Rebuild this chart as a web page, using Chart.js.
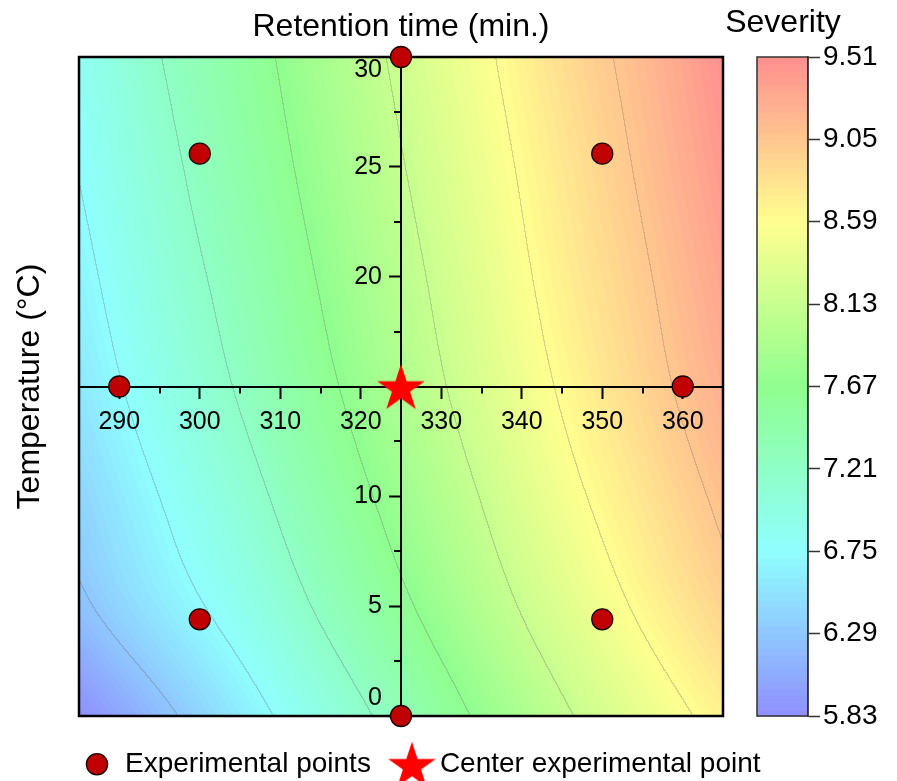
<!DOCTYPE html>
<html>
<head>
<meta charset="utf-8">
<script src="https://cdn.jsdelivr.net/npm/chart.js@4.4.0/dist/chart.umd.min.js"></script>
<style>
html,body{margin:0;padding:0;background:#fff;}
canvas{display:block;}
</style>
</head>
<body>
<canvas id="c" width="897" height="781"></canvas>
<script>
// ---------- data ----------
const tempGrid = [285, 295, 305, 315, 325, 335, 345, 355, 365];   // °C
const timeGrid = [0, 5, 10, 15, 20, 25, 30];                        // min
// severity estimated along each retention-time row (one value per temperature)
const sevAt0  = [5.83, 6.20, 6.59, 6.97, 7.34, 7.72, 8.08, 8.40, 8.70];
const sevAt5  = [6.23, 6.57, 6.89, 7.25, 7.61, 7.97, 8.32, 8.64, 8.95];
const sevAt10 = [6.40, 6.75, 7.08, 7.44, 7.79, 8.14, 8.49, 8.80, 9.11];
const sevAt15 = [6.55, 6.91, 7.24, 7.59, 7.93, 8.28, 8.62, 8.93, 9.25];
const sevAt20 = [6.66, 7.02, 7.34, 7.69, 8.02, 8.37, 8.71, 9.01, 9.34];
const sevAt25 = [6.76, 7.11, 7.44, 7.78, 8.11, 8.45, 8.78, 9.09, 9.43];
const sevAt30 = [6.85, 7.20, 7.52, 7.86, 8.19, 8.53, 8.86, 9.16, 9.50];

const expTemp = [300, 350, 300, 350, 290, 360, 325, 325];
const expTime = [4.4, 4.4, 25.6, 25.6, 15, 15, 0, 30];
const centerTemp = [325];
const centerTime = [15];

const xTicks = [290, 300, 310, 320, 330, 340, 350, 360];
const xMinorTicks = [295, 305, 315, 335, 345, 355];
const yTicks = [0, 5, 10, 20, 25, 30];
const yMinorTicks = [2.5, 7.5, 12.5, 17.5, 22.5, 27.5];
const colorTicks = [5.83, 6.29, 6.75, 7.21, 7.67, 8.13, 8.59, 9.05, 9.51];

const severityRows = [sevAt0, sevAt5, sevAt10, sevAt15, sevAt20, sevAt25, sevAt30];

// ---------- helpers ----------
const FONT = "'Liberation Sans', Arial, sans-serif";
Chart.defaults.font.family = FONT;
Chart.defaults.color = '#000';

const vMin = colorTicks[0], vMax = colorTicks[colorTicks.length - 1];
const BANDS_PER_STEP = 12;
const nBands = (colorTicks.length - 1) * BANDS_PER_STEP;
const contourStep = colorTicks[1] - colorTicks[0];

function hsl2rgb(h, s, l) {
  const c = (1 - Math.abs(2 * l - 1)) * s;
  const hp = h / 60;
  const x = c * (1 - Math.abs(hp % 2 - 1));
  let r = 0, g = 0, b = 0;
  if (hp < 1) { r = c; g = x; }
  else if (hp < 2) { r = x; g = c; }
  else if (hp < 3) { g = c; b = x; }
  else if (hp < 4) { g = x; b = c; }
  else if (hp < 5) { r = x; b = c; }
  else { r = c; b = x; }
  const m = l - c / 2;
  return [Math.round((r + m) * 255), Math.round((g + m) * 255), Math.round((b + m) * 255)];
}
function colorFor(v) {
  let f = (vMax - v) / (vMax - vMin);
  f = Math.max(0, Math.min(1, f));
  return hsl2rgb(240 * f, 1, 0.78);
}
const bandColors = [];
for (let b = 0; b < nBands; b++) {
  bandColors.push(colorFor(vMin + (b + 0.5) * (vMax - vMin) / nBands));
}
function bandOf(v) {
  let b = Math.floor((v - vMin) / (vMax - vMin) * nBands);
  return Math.max(0, Math.min(nBands - 1, b));
}
function cr(p0, p1, p2, p3, t) {
  return 0.5 * ((2 * p1) + (-p0 + p2) * t + (2 * p0 - 5 * p1 + 4 * p2 - p3) * t * t + (-p0 + 3 * p1 - 3 * p2 + p3) * t * t * t);
}
function fracIndex(grid, v) {
  const n = grid.length;
  if (v <= grid[0]) return 0;
  if (v >= grid[n - 1]) return n - 1;
  for (let i = 0; i < n - 1; i++) {
    if (v <= grid[i + 1]) return i + (v - grid[i]) / (grid[i + 1] - grid[i]);
  }
  return n - 1;
}
// Catmull-Rom sampling with linear end extension (smooth rendering only)
function pick(getter, n, i) {
  if (i < 0) return 2 * getter(0) - getter(1);
  if (i > n - 1) return 2 * getter(n - 1) - getter(n - 2);
  return getter(i);
}
function sample1d(getter, n, f) {
  let i1 = Math.max(0, Math.min(Math.floor(f), n - 2));
  const u = f - i1;
  return cr(pick(getter, n, i1 - 1), getter(i1), getter(i1 + 1), pick(getter, n, i1 + 2), u);
}

// star symbol
const starImg = document.createElement('canvas');
starImg.width = 56; starImg.height = 56;
(function () {
  const sc = starImg.getContext('2d');
  const R = 25, r = R * 0.382, cx = 28, cy = 28 + R * 0.095;
  sc.fillStyle = '#ff0000';
  sc.beginPath();
  for (let k = 0; k < 10; k++) {
    const rad = k % 2 === 0 ? R : r;
    const ang = -Math.PI / 2 + k * Math.PI / 5;
    const px = cx + rad * Math.cos(ang), py = cy + rad * Math.sin(ang);
    if (k === 0) sc.moveTo(px, py); else sc.lineTo(px, py);
  }
  sc.closePath();
  sc.fill();
})();

// ---------- plugin: contour map, frame, colour bar, extra ticks ----------
const contourPlugin = {
  id: 'contourMap',
  beforeDraw(chart) {
    const { ctx, chartArea: a, scales } = chart;
    const x = scales.x, y = scales.y;
    const L = Math.round(a.left), T = Math.round(a.top);
    const W = Math.round(a.right) - L, H = Math.round(a.bottom) - T;
    const nC = tempGrid.length, nR = severityRows.length;
    const colF = new Float32Array(W);
    for (let i = 0; i < W; i++) colF[i] = fracIndex(tempGrid, x.getValueForPixel(L + i + 0.5));
    const rowVals = severityRows.map(row => {
      const out = new Float32Array(W);
      const g = k => row[k];
      for (let i = 0; i < W; i++) out[i] = sample1d(g, nC, colF[i]);
      return out;
    });
    const vals = new Float32Array(W * H);
    for (let j = 0; j < H; j++) {
      const f = fracIndex(timeGrid, y.getValueForPixel(T + j + 0.5));
      for (let i = 0; i < W; i++) {
        vals[j * W + i] = sample1d(k => rowVals[k][i], nR, f);
      }
    }
    const img = ctx.createImageData(W, H);
    const d = img.data;
    const lvl = v => Math.floor((v - vMin) / contourStep + 1e-6);
    const LINE = 0.28, GRAY = 105;
    for (let j = 0; j < H; j++) {
      for (let i = 0; i < W; i++) {
        const k = j * W + i;
        const v = vals[k];
        const c = bandColors[bandOf(v)];
        let rr = c[0], gg = c[1], bb = c[2];
        const lv = lvl(v);
        let edge = false;
        if (i < W - 1 && lvl(vals[k + 1]) !== lv) edge = true;
        if (j < H - 1 && lvl(vals[k + W]) !== lv) edge = true;
        if (edge) {
          rr = rr * (1 - LINE) + GRAY * LINE; gg = gg * (1 - LINE) + GRAY * LINE; bb = bb * (1 - LINE) + GRAY * LINE;
        }
        const p = k * 4;
        d[p] = rr; d[p + 1] = gg; d[p + 2] = bb; d[p + 3] = 255;
      }
    }
    ctx.putImageData(img, L, T);

    // frame
    ctx.save();
    ctx.strokeStyle = '#000';
    ctx.lineWidth = 2.5;
    ctx.strokeRect(a.left, a.top, a.right - a.left, a.bottom - a.top);
    ctx.restore();

    // colour bar
    const cb = scales.cb;
    const barW = 51;
    const bx = cb.left - barW;
    ctx.save();
    for (let b = 0; b < nBands; b++) {
      const v0 = vMin + b * (vMax - vMin) / nBands;
      const v1 = vMin + (b + 1) * (vMax - vMin) / nBands;
      const y0 = cb.getPixelForValue(v1), y1 = cb.getPixelForValue(v0);
      const c = bandColors[b];
      ctx.fillStyle = `rgb(${c[0]},${c[1]},${c[2]})`;
      ctx.fillRect(bx, y0, barW, y1 - y0 + 0.6);
    }
    ctx.strokeStyle = '#333';
    ctx.lineWidth = 1.5;
    ctx.strokeRect(bx, cb.getPixelForValue(vMax), barW, cb.getPixelForValue(vMin) - cb.getPixelForValue(vMax));
    ctx.restore();
  },
  beforeDatasetsDraw(chart) {
    const { ctx, scales } = chart;
    const x = scales.x, y = scales.y;
    const axY = y.getPixelForValue(centerTime[0]);
    const axX = x.getPixelForValue(centerTemp[0]);
    ctx.save();
    ctx.strokeStyle = '#000';
    ctx.lineWidth = 2;
    ctx.beginPath();
    xMinorTicks.forEach(v => {
      const px = Math.round(x.getPixelForValue(v));
      ctx.moveTo(px, axY); ctx.lineTo(px, axY + 7);
    });
    yMinorTicks.forEach(v => {
      const py = Math.round(y.getPixelForValue(v));
      ctx.moveTo(axX, py); ctx.lineTo(axX - 7, py);
    });
    ctx.stroke();
    // tick labels of the vertical (retention time) axis
    ctx.fillStyle = '#000';
    ctx.font = `25px ${FONT}`;
    ctx.textAlign = 'right';
    ctx.textBaseline = 'middle';
    const lx = axX - 19;
    const last = yTicks.length - 1;
    yTicks.forEach((v, i) => {
      let py = y.getPixelForValue(v);
      if (i === last) py += 13;       // top label sits inside the frame
      else if (i === 0) py -= 18;     // bottom label sits inside the frame
      ctx.fillText(String(v), lx, py);
    });
    // colour bar title
    ctx.textAlign = 'center';
    ctx.font = `32px ${FONT}`;
    ctx.fillText('Severity', scales.cb.left - 25, 23);
    ctx.restore();
  }
};

// ---------- chart ----------
new Chart(document.getElementById('c'), {
  type: 'scatter',
  data: {
    datasets: [
      {
        label: 'Experimental points',
        data: expTemp.map((t, i) => ({ x: t, y: expTime[i] })),
        pointStyle: 'circle',
        pointRadius: 10.5,
        backgroundColor: '#c00000',
        borderColor: '#1a0000',
        borderWidth: 1.3,
        clip: false
      },
      {
        label: 'Center experimental point',
        data: centerTemp.map((t, i) => ({ x: t, y: centerTime[i] })),
        pointStyle: starImg,
        backgroundColor: '#ff0000',
        borderColor: '#ff0000',
        clip: false
      }
    ]
  },
  options: {
    responsive: false,
    animation: false,
    events: [],
    layout: { padding: { left: 56, right: 0, top: 0, bottom: 0 } },
    scales: {
      x: {
        type: 'linear',
        position: { y: centerTime[0] },
        min: 285, max: 365,
        afterBuildTicks: s => { s.ticks = xTicks.map(v => ({ value: v })); },
        ticks: { font: { size: 25 }, color: '#000', padding: 10, autoSkip: false, maxRotation: 0, callback: v => String(v) },
        grid: { display: true, drawOnChartArea: false, drawTicks: true, tickLength: 11, tickWidth: 2, tickColor: '#000' },
        border: { display: true, color: '#000', width: 2 }
      },
      y: {
        type: 'linear',
        position: { x: centerTemp[0] },
        min: 0, max: 30,
        afterBuildTicks: s => { s.ticks = yTicks.map(v => ({ value: v })); },
        ticks: { display: false },
        grid: { display: true, drawOnChartArea: false, drawTicks: true, tickLength: 11, tickWidth: 2, tickColor: '#000' },
        border: { display: true, color: '#000', width: 2 }
      },
      tempTitle: {
        type: 'linear',
        position: 'left',
        display: true,
        afterFit: s => { s.width = 23; },
        ticks: { display: false },
        grid: { display: false },
        border: { display: false },
        title: { display: true, text: 'Temperature (°C)', font: { size: 32 }, color: '#000', padding: { top: -45, bottom: 0 } }
      },
      gapR: {
        type: 'linear',
        position: 'right',
        weight: 0,
        display: true,
        afterFit: s => { s.width = 85; },
        ticks: { display: false },
        grid: { display: false },
        border: { display: false }
      },
      cb: {
        type: 'linear',
        position: 'right',
        weight: 1,
        min: vMin, max: vMax,
        afterFit: s => { s.width = 89; },
        afterBuildTicks: s => { s.ticks = colorTicks.map(v => ({ value: v })); },
        ticks: { font: { size: 28 }, color: '#000', padding: 3, autoSkip: false, callback: v => Number(v).toFixed(2) },
        grid: { display: true, drawOnChartArea: false, drawTicks: true, tickLength: 12, tickWidth: 1.5, tickColor: '#333' },
        border: { display: true, color: '#333', width: 1.5 }
      }
    },
    plugins: {
      title: {
        display: true,
        text: 'Retention time (min.)',
        fullSize: false,
        font: { size: 32, weight: 'normal' },
        color: '#000',
        padding: { top: 8, bottom: 10.6 }
      },
      legend: {
        position: 'bottom',
        align: 'start',
        maxHeight: 65,
        title: { display: true, text: '', font: { size: 6 }, padding: 0 },
        labels: { usePointStyle: true, boxHeight: 15, font: { size: 28 }, color: '#000', padding: 27 }
      },
      tooltip: { enabled: false }
    }
  },
  plugins: [contourPlugin]
});
</script>
</body>
</html>
